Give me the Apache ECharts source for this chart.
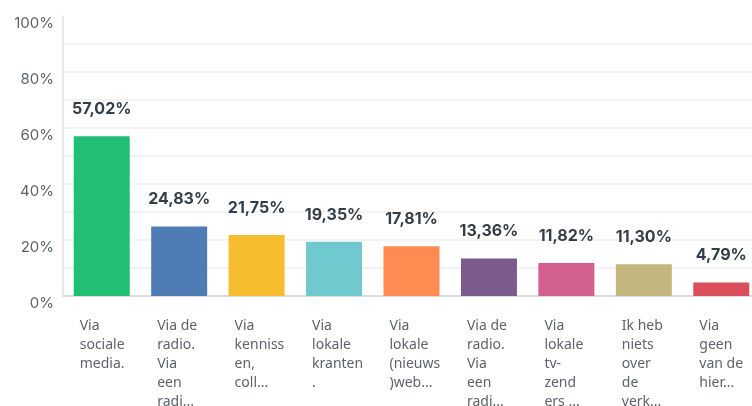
<!DOCTYPE html>
<html>
<head>
<meta charset="utf-8">
<script src="https://cdn.jsdelivr.net/npm/echarts@6/dist/echarts.min.js"></script>
<style>
  html, body { margin: 0; padding: 0; background: #fff; }
  #chart { width: 752px; height: 406px; }
</style>
</head>
<body>
<div id="chart"></div>
<script>
// categorieën (afgekapt zoals in de bron)
var categories = [
  "Via\nsociale\nmedia.",
  "Via de\nradio.\nVia\neen\nradi...",
  "Via\nkenniss\nen,\ncoll...",
  "Via\nlokale\nkranten\n.",
  "Via\nlokale\n(nieuws\n)web...",
  "Via de\nradio.\nVia\neen\nradi...",
  "Via\nlokale\ntv-\nzend\ners ...",
  "Ik heb\nniets\nover\nde\nverk...",
  "Via\ngeen\nvan de\nhier..."
];
var percentages = [57.02, 24.83, 21.75, 19.35, 17.81, 13.36, 11.82, 11.30, 4.79];
var yTicks = [0, 20, 40, 60, 80, 100];

var barColors = ["#21bf73", "#507cb6", "#f7bd2f", "#6fc9cf", "#fd8b52",
                 "#7b5b8d", "#d25f90", "#c3b67e", "#d9505c"];

var myChart = echarts.init(document.getElementById("chart"));

var option = {
  animation: false,
  grid: { left: 63, right: -8, top: 16, bottom: 110, outerBoundsMode: "none" },
  xAxis: {
    type: "category",
    data: categories,
    axisTick: { show: false },
    axisLine: { lineStyle: { color: "#d6d6d6", width: 1.5 } },
    axisLabel: {
      interval: 0,
      margin: 21,
      width: 44,
      overflow: "none",
      align: "center",
      formatter: function (v) { return "{a|" + v + "}"; },
      rich: {
        a: {
          align: "left",
          fontFamily: "Noto Sans",
          fontSize: 14,
          lineHeight: 19,
          color: "#5c6369"
        }
      }
    }
  },
  yAxis: {
    type: "value",
    min: 0,
    max: 100,
    interval: 10,
    axisLine: { show: true, lineStyle: { color: "#e0e0e0", width: 1.5 } },
    axisTick: { show: false },
    splitLine: { showMaxLine: false, lineStyle: { color: "#efefef", width: 1.5 } },
    axisLabel: {
      margin: 9,
      verticalAlign: "top",
      fontFamily: "Inter",
      fontSize: 15,
      color: "#5c6369",
      formatter: function (v) {
        return yTicks.indexOf(v) >= 0 ? v + "%" : "";
      }
    }
  },
  series: [
    {
      type: "bar",
      barWidth: 56,
      data: percentages.map(function (v, i) {
        return { value: v, itemStyle: { color: barColors[i] } };
      }),
      label: {
        show: true,
        position: "top",
        distance: 19,
        fontFamily: "Inter",
        fontWeight: "bold",
        fontSize: 16,
        color: "#333e48",
        formatter: function (p) {
          return p.value.toFixed(2).replace(".", ",") + "%";
        }
      }
    }
  ]
};
option && myChart.setOption(option);
</script>
</body>
</html>
